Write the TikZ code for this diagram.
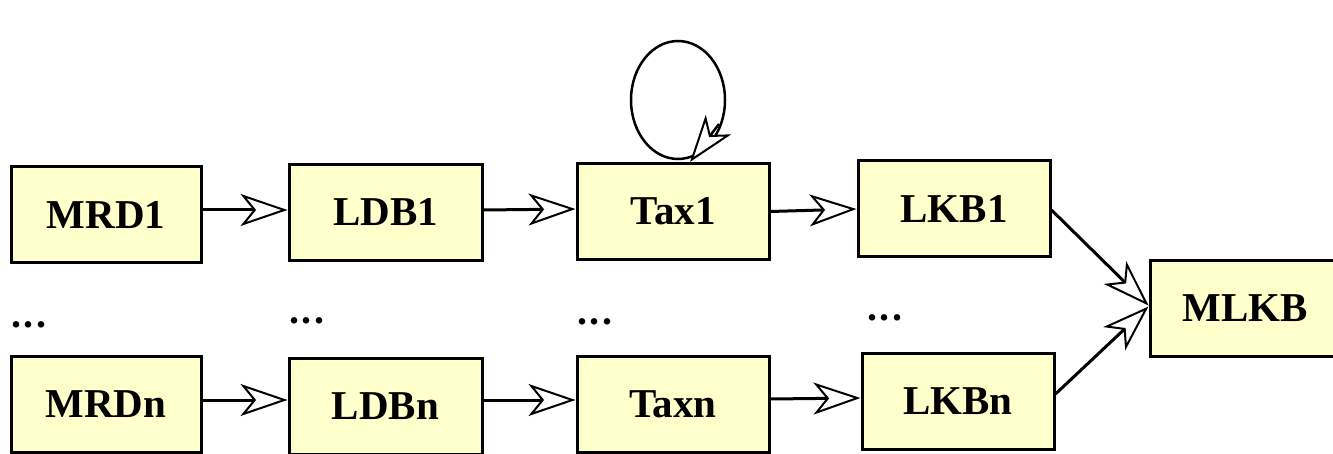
\documentclass[tikz,border=0pt]{standalone}
\usepackage{fontspec}
\setmainfont{Liberation Serif}
\usetikzlibrary{arrows.meta}
\definecolor{boxfill}{HTML}{FFFFCC}
\newcommand{\mydots}{.\kern2.5pt.\kern2.5pt.}
\tikzset{
  box/.style={draw=black, fill=boxfill, line width=3pt, minimum width=190pt, minimum height=96pt,
    inner sep=0pt, font=\fontsize{41}{43}\selectfont\bfseries},
  dots/.style={inner sep=0pt, font=\fontsize{40}{42}\selectfont\bfseries},
  flow/.style={line width=3pt, -{Stealth[length=47pt, width=32pt, inset=13pt, fill=white, line width=2pt]}},
  loopline/.style={line width=2.5pt}
}
\begin{document}
\begin{tikzpicture}[x=1pt, y=-1pt]
\useasboundingbox (0,0) rectangle (1333,454);
% row 1
\node[box] (mrd1) at (106,215) {MRD1};
\node[box, minimum width=193pt] (ldb1) at (385.5,212.5) {LDB1};
\node[box, minimum width=192pt] (tax1) at (673,211.5) {Tax1};
\node[box, minimum width=192pt] (lkb1) at (954,209) {LKB1};
% row 2
\node[box] (mrdn) at (106,404) {MRDn};
\node[box, minimum width=193pt] (ldbn) at (385.5,406) {LDBn};
\node[box, minimum width=192pt] (taxn) at (673,404) {Taxn};
\node[box, minimum width=192pt] (lkbn) at (958,401) {LKBn};
% merge
\node[box, minimum width=190pt, minimum height=95pt] (mlkb) at (1245,308.5) {MLKB};
% dots
\node[dots] (d1) at (29,325) {\mydots};
\node[dots] (d2) at (307,321) {\mydots};
\node[dots] (d3) at (595,322) {\mydots};
\node[dots] (d4) at (885,318) {\mydots};
% connectors
\draw[flow] ([yshift=5pt]mrd1.east) -- ([yshift=2.5pt]ldb1.west);
\draw[flow] ([yshift=2.5pt]ldb1.east) -- ([yshift=2.5pt]tax1.west);
\draw[flow] (tax1.east) -- ([yshift=0pt]lkb1.west);
\draw[flow] ([yshift=4pt]mrdn.east) -- ([yshift=6pt]ldbn.west);
\draw[flow] ([yshift=6pt]ldbn.east) -- ([yshift=4pt]taxn.west);
\draw[flow] ([yshift=5pt]taxn.east) -- ([yshift=3pt]lkbn.west);
\draw[flow] ([yshift=-1pt]lkb1.east) -- ([yshift=3pt]mlkb.west);
\draw[flow] ([yshift=7pt]lkbn.east) -- ([yshift=2pt]mlkb.west);
% self loop on tax1
\draw[loopline] ([xshift=5pt, yshift=62pt]tax1.north) ellipse [x radius=47pt, y radius=59pt];
\coordinate (looptip) at ([xshift=17pt]tax1.north);
\coordinate (loopback) at ([xshift=46pt, yshift=38pt]tax1.north);
\draw[flow, line width=2.5pt] (loopback) -- (looptip);
\end{tikzpicture}
\end{document}
